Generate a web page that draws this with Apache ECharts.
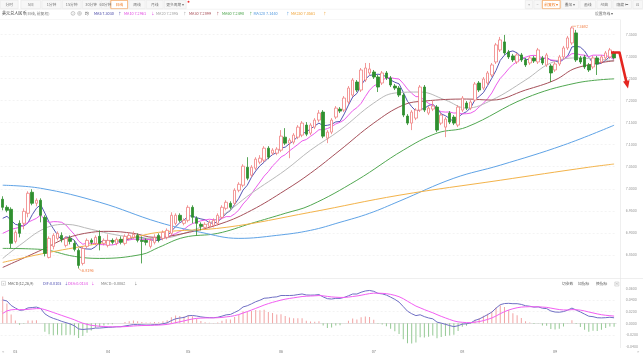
<!DOCTYPE html>
<html><head><meta charset="utf-8">
<script src="https://cdn.jsdelivr.net/npm/echarts@6.0.0/dist/echarts.min.js"></script>
<style>html,body{margin:0;padding:0;background:#fff}#c{width:643px;height:356px}</style>
</head><body><div id="c"></div>
<script>
// ---------- DATA ----------
const monthCounts = [['02',3],['03',22],['04',19],['05',22],['06',22],['07',21],['08',22],['09',15]];
// [open, close, low, high]
const candles = [
[6.9763,6.9581,6.9513,6.9831],[6.9581,6.9513,6.9468,6.9627],[6.9536,6.8764,6.8650,6.9581],
[6.8809,6.9014,6.8764,6.9059],[6.9218,6.8991,6.8900,6.9286],[6.9218,6.9490,6.9082,6.9558],[6.9445,6.9899,6.9354,6.9944],
[6.9922,6.9672,6.9627,6.9990],[6.9672,6.9740,6.9604,6.9785],[6.9740,6.9400,6.9241,6.9785],[6.9354,6.8537,6.8469,6.9400],
[6.8446,6.8877,6.8423,6.8923],[6.8696,6.8945,6.8628,6.8991],[6.8877,6.8991,6.8832,6.9036],[6.8945,6.8855,6.8787,6.9014],
[6.8719,6.8877,6.8673,6.8923],[6.8877,6.8809,6.8741,6.8945],[6.8764,6.8628,6.8582,6.8832],[6.8605,6.8265,6.8196,6.8650],
[6.8310,6.8650,6.8265,6.8696],[6.8696,6.8832,6.8650,6.8877],[6.8832,6.8787,6.8741,6.8877],[6.8764,6.8900,6.8719,6.8945],
[6.8923,6.8764,6.8605,6.9059],[6.8764,6.8832,6.8719,6.8877],
[6.8719,6.8832,6.8673,6.8968],[6.8832,6.8787,6.8741,6.8877],[6.8764,6.8855,6.8719,6.8900],[6.8855,6.8787,6.8741,6.8923],
[6.8764,6.8923,6.8719,6.8968],[6.8877,6.8945,6.8832,6.9014],[6.8900,6.8968,6.8855,6.9036],[6.8945,6.8832,6.8787,6.8991],
[6.8832,6.8809,6.8310,6.8923],[6.8832,6.8787,6.8719,6.8877],[6.8696,6.8832,6.8650,6.8877],[6.8787,6.8900,6.8741,6.8968],
[6.8945,6.8832,6.8787,6.8991],[6.8877,6.9014,6.8832,6.9059],[6.8900,6.9059,6.8855,6.9104],[6.8991,6.9400,6.8945,6.9468],
[6.9218,6.9400,6.9173,6.9445],[6.9400,6.9286,6.9241,6.9445],[6.9218,6.9286,6.9173,6.9331],
[6.9286,6.9581,6.9241,6.9627],[6.9581,6.9354,6.9218,6.9627],[6.9331,6.9218,6.8945,6.9377],[6.9195,6.9150,6.9059,6.9241],
[6.9127,6.9195,6.9082,6.9241],[6.9150,6.9241,6.9104,6.9286],[6.9173,6.9286,6.9127,6.9331],[6.9218,6.9400,6.9173,6.9445],
[6.9354,6.9581,6.9309,6.9627],[6.9558,6.9695,6.9513,6.9740],[6.9672,6.9581,6.9536,6.9718],[6.9672,6.9967,6.9627,7.0012],
[6.9967,7.0103,6.9922,7.0149],[7.0081,7.0512,7.0035,7.0557],[7.0489,7.0239,7.0194,7.0716],[7.0308,7.0489,7.0262,7.0535],
[7.0466,7.0671,7.0421,7.0716],[7.0603,7.0693,7.0557,7.0762],[7.0648,7.0920,7.0603,7.0966],[7.0920,7.0716,7.0671,7.0966],
[7.0807,7.0875,7.0762,7.0920],[7.0807,7.0898,7.0762,7.0943],
[7.0875,7.1193,7.0830,7.1329],[7.1170,7.1034,7.0989,7.1374],[7.1034,7.1102,7.0693,7.1147],[7.1057,7.1216,7.1011,7.1261],
[7.1170,7.1397,7.1125,7.1443],[7.1216,7.1488,7.1170,7.1533],[7.1443,7.1238,7.1193,7.1511],[7.1261,7.1443,7.1216,7.1488],
[7.1397,7.1556,7.1352,7.1601],[7.1556,7.1715,7.1511,7.1783],[7.1738,7.1193,7.1147,7.1783],[7.1147,7.1284,7.1034,7.1329],
[7.1284,7.1556,7.1238,7.1601],[7.1624,7.1828,7.1579,7.1874],[7.1806,7.1760,7.1715,7.1851],[7.1783,7.2055,7.1738,7.2101],
[7.1965,7.2282,7.1919,7.2328],[7.2123,7.2464,7.2078,7.2509],[7.2419,7.2237,7.2192,7.2464],[7.2237,7.2691,7.2192,7.2736],
[7.2464,7.2736,7.2419,7.2850],[7.2623,7.2714,7.2578,7.2850],
[7.2646,7.2532,7.2487,7.2691],[7.2532,7.2305,7.2192,7.2578],[7.2396,7.2623,7.2351,7.2668],[7.2623,7.2509,7.2464,7.2668],
[7.2509,7.2351,7.2305,7.2555],[7.2328,7.2282,7.2237,7.2373],[7.2282,7.2123,7.2078,7.2328],[7.2123,7.1670,7.1624,7.2169],
[7.1647,7.1488,7.1443,7.1692],[7.1488,7.1738,7.1329,7.1783],[7.1601,7.1783,7.1556,7.1828],[7.1783,7.2305,7.1738,7.2351],
[7.2305,7.1783,7.1738,7.2351],[7.1715,7.1828,7.1670,7.1874],[7.1806,7.1874,7.1760,7.2010],[7.1851,7.1329,7.1284,7.1897],
[7.1488,7.1670,7.1443,7.1715],[7.1397,7.1579,7.1170,7.1624],[7.1715,7.1511,7.1466,7.1760],[7.1624,7.1488,7.1443,7.1670],
[7.1443,7.1851,7.1397,7.1897],
[7.1783,7.2055,7.1738,7.2101],[7.1942,7.1828,7.1783,7.1987],[7.1828,7.1965,7.1783,7.2010],[7.2010,7.2373,7.1965,7.2419],
[7.2396,7.2237,7.2192,7.2441],[7.2282,7.2487,7.2237,7.2532],[7.2396,7.2623,7.2351,7.2668],[7.2578,7.2805,7.2532,7.2850],
[7.2873,7.3259,7.2827,7.3304],[7.3145,7.3372,7.3100,7.3440],[7.3327,7.3077,7.3032,7.3486],[7.3100,7.2986,7.2941,7.3145],
[7.3009,7.2918,7.2873,7.3055],[7.2873,7.3032,7.2827,7.3077],[7.3032,7.2918,7.2873,7.3077],[7.2918,7.2805,7.2759,7.2964],
[7.2850,7.2964,7.2805,7.3009],[7.2964,7.2895,7.2850,7.3009],[7.2873,7.3145,7.2827,7.3190],[7.2964,7.2850,7.2805,7.3009],
[7.2805,7.3032,7.2759,7.3077],[7.2782,7.2623,7.2419,7.2827],
[7.2691,7.2827,7.2646,7.2873],[7.2827,7.2986,7.2782,7.3032],[7.2986,7.3190,7.2941,7.3236],[7.3190,7.3417,7.3145,7.3463],
[7.3304,7.3644,7.3259,7.3682],[7.3531,7.2918,7.2873,7.3599],[7.2964,7.2873,7.2827,7.3009],[7.2986,7.2759,7.2714,7.3032],
[7.2805,7.2691,7.2646,7.2850],[7.2759,7.2964,7.2714,7.3009],[7.2964,7.2827,7.2578,7.3009],[7.2873,7.2986,7.2827,7.3032],
[7.2964,7.3077,7.2918,7.3122],[7.2986,7.3145,7.2941,7.3190],[7.3077,7.2964,7.2941,7.3122]
];
const ma5Early  = [6.9331,6.9377,6.9286,6.9195];
const ma10Early = [6.8991,6.9036,6.9082,6.9104,6.9127,6.9173,6.9241,6.9286,6.9331];
// slower averages: [candle index, value]
const ma20Pts = [[0,6.8423],[4,6.8719],[10,6.9104],[15,6.9195],[21,6.9082],[25,6.8991],[31,6.8900],[37,6.8877],[43,6.8991],[51,6.9331],[59,6.9899],[67,7.0421],[73,7.0875],[80,7.1329],[88,7.1942],[93,7.2169],[99,7.2192],[105,7.2010],[110,7.1828],[116,7.2010],[124,7.2464],[130,7.2850],[136,7.2964],[145,7.2895]];
const ma30Pts = [[0,6.8219],[10,6.8650],[15,6.8877],[21,6.9014],[25,6.9036],[31,6.8991],[36,6.8900],[43,6.8991],[52,6.9218],[59,6.9513],[67,6.9967],[73,7.0353],[80,7.0875],[88,7.1488],[95,7.1897],[100,7.1987],[110,7.2033],[116,7.2010],[124,7.2237],[131,7.2464],[136,7.2736],[145,7.2899]];
const ma60Pts = [[0,6.8650],[9,6.8628],[17,6.8469],[23,6.8423],[33,6.8514],[37,6.8673],[43,6.8900],[51,6.8991],[59,6.9218],[67,6.9445],[73,6.9627],[84,7.0194],[95,7.0875],[103,7.1261],[110,7.1397],[124,7.2055],[136,7.2396],[145,7.2490]];
const ma120Pts = [[0,7.0081],[9,7.0012],[23,6.9695],[37,6.9241],[47,6.9014],[56,6.8877],[65,6.8945],[73,6.9059],[80,6.9241],[87,6.9445],[94,6.9717],[107,7.0239],[118,7.0535],[133,7.0989],[145,7.1440]];
const ma250Pts = [[0,6.8333],[11,6.8560],[23,6.8764],[31,6.8900],[37,6.9014],[53,6.9127],[73,6.9468],[94,6.9854],[118,7.0194],[139,7.0489],[145,7.0561]];
// MACD state at the first candle: [ema12, ema26, dea]
const macdSeed = [6.935, 6.895, 0.017];
const priceTicks = {min: 6.80, max: 7.40, step: 0.05};
const macdTicks = {min: -0.04, max: 0.06, step: 0.02};
const legendTexts = ['MA5 7.3030','MA10 7.2961','MA20 7.2895','MA30 7.2899','MA60 7.2490','MA120 7.1440','MA250 7.0561'];
const legendArrows = ['↑','↓','↑','↑','↑','↑','↑'];
const macdTexts = ['DIF:0.0103','DEA:0.0134','MACD:-0.0062'];

// ---------- DERIVED ----------
const cats = [];
monthCounts.forEach(([m,n])=>{for(let k=0;k<n;k++)cats.push(m+'-'+String(k+1).padStart(2,'0'));});
const closes = candles.map(c=>c[1]);
function ma(n, early){
  return closes.map((c,i)=>{
    if(i<n-1) return early[i];
    let s=0; for(let j=i-n+1;j<=i;j++) s+=closes[j]; return +(s/n).toFixed(5);
  });
}
const ma5 = ma(5, ma5Early), ma10 = ma(10, ma10Early);
const dif=[], dea=[], hist=[];
let e12=macdSeed[0], e26=macdSeed[1], dd=macdSeed[2];
closes.forEach((c,i)=>{
  if(i>0){ e12 += (c-e12)*2/13; e26 += (c-e26)*2/27; }
  const df = e12-e26;
  if(i>0) dd += (df-dd)*2/10;
  dif.push(+df.toFixed(5)); dea.push(+dd.toFixed(5)); hist.push(+(2*(df-dd)).toFixed(5));
});

const FONT = '"Noto Sans CJK SC","Noto Sans",sans-serif';
const maColors = ['#5656b4','#ec5cec','#b9b9b9','#a6505a','#52a852','#5fa3e6','#f3b34a'];
const legendColors = ['#3a3aa0','#e040e0','#9a9a9a','#a0404a','#3c9c3c','#4a94dd','#efa030'];

const chart = echarts.init(document.getElementById('c'), null, {renderer:'canvas'});
const GL = 0.6, GW = 615.6;
const isMonthStart = (i)=> i>0 && cats[i].slice(0,2)!==cats[i-1].slice(0,2);

function lineSeries(name, data, color, smooth){
  return {name, type:'line', xAxisIndex:0, yAxisIndex:0, data, symbol:'none', smooth: smooth||false,
    connectNulls:true, lineStyle:{width:1, color}, z:3, silent:true};
}

chart.setOption({
  animation:false,
  backgroundColor:'#fff',
  grid:[
    {left:GL, top:12.2, width:GW, height:264.9},
    {left:GL, top:288.3, width:GW, height:58.4}
  ],
  xAxis:[
    {type:'category', gridIndex:0, data:cats, boundaryGap:true, show:false},
    {type:'category', gridIndex:1, data:cats, boundaryGap:true,
     axisLine:{show:true, lineStyle:{color:'#e2e2e2'}}, axisTick:{show:false},
     axisLabel:{interval:(i)=>isMonthStart(i), formatter:v=>v.slice(0,2), fontSize:3.8, color:'#777', margin:2.5, fontFamily:FONT}}
  ],
  yAxis:[
    {type:'value', gridIndex:0, position:'right', min:priceTicks.min, max:priceTicks.max, interval:priceTicks.step,
     axisLine:{show:false}, axisTick:{show:false},
     axisLabel:{showMinLabel:false, showMaxLabel:false, formatter:v=>v.toFixed(4), fontSize:3.6, color:'#999', margin:9.5, fontFamily:FONT},
     splitLine:{show:true, showMinLine:false, showMaxLine:false, lineStyle:{color:'#ececec', type:[2,2], width:0.6}}},
    {type:'value', gridIndex:1, position:'right', min:macdTicks.min, max:macdTicks.max, interval:macdTicks.step,
     axisLine:{show:false}, axisTick:{show:false},
     axisLabel:{formatter:v=>v.toFixed(4), fontSize:3.6, color:'#999', margin:9.5, fontFamily:FONT},
     splitLine:{show:true, showMinLine:false, showMaxLine:false, lineStyle:{color:'#ececec', type:[2,2], width:0.6}}}
  ],
  series:[
    {type:'candlestick', xAxisIndex:0, yAxisIndex:0, data:candles, barWidth:3, z:5,
     itemStyle:{color:'#ffffff', color0:'#2f8f2f', borderColor:'#f07f7f', borderColor0:'#2f8f2f', borderWidth:0.8}},
    lineSeries('MA5', ma5, maColors[0]),
    lineSeries('MA10', ma10, maColors[1]),
    lineSeries('MA20', ma20Pts, maColors[2], 0.4),
    lineSeries('MA30', ma30Pts, maColors[3], 0.4),
    lineSeries('MA60', ma60Pts, maColors[4], 0.4),
    lineSeries('MA120', ma120Pts, maColors[5], 0.4),
    lineSeries('MA250', ma250Pts, maColors[6], 0.4),
    {type:'bar', xAxisIndex:1, yAxisIndex:1, data:hist, barWidth:0.9, silent:true,
     itemStyle:{color:p=>p.value>=0?'#f2a3a3':'#94c994'}},
    {type:'line', xAxisIndex:1, yAxisIndex:1, data:dif, symbol:'none', lineStyle:{width:1,color:'#6f6fc4'}, silent:true, z:4},
    {type:'line', xAxisIndex:1, yAxisIndex:1, data:dea, symbol:'none', lineStyle:{width:1,color:'#f35ef3'}, silent:true, z:4}
  ]
});

// ---------- decoration (texts, toolbar) ----------
const G = [];
const txt = (x,y,text,fill,size,align)=>G.push({type:'text', x, y, z:50,
  style:{text, fill, fontSize:size||4, fontFamily:FONT, align:align||'left', verticalAlign:'middle'}});
const rect = (x,y,w,h,stroke,fill,lw)=>G.push({type:'rect', z:40, shape:{x,y,width:w,height:h},
  style:{stroke, fill:fill||'none', lineWidth:lw||0.6}});
const hline = (x1,y1,x2,y2,stroke,lw)=>G.push({type:'line', z:40, shape:{x1,y1,x2,y2}, style:{stroke, lineWidth:lw||0.6}});

// top toolbar
const tb = [['分时',0,18.5],['5日',20.5,41],['1分钟',41.5,61.5],['15分钟',62,81.5],['30分钟',82,100.5],['60分钟',101,110],['日线',110.5,128],['周线',128.5,145.5],['月线',146,163.5],['更多周期 ▾',164,186.5]];
tb.forEach(([t,a,b])=>{
  const sel = t==='日线';
  rect(a+0.3,0.3,b-a-0.6,8.4, sel?'#f39a4c':'#e3e3e3', sel?'#fff':'#f7f7f7', sel?0.8:0.5);
  txt((a+b)/2,4.6,t, sel?'#f07a20':'#777',3.8,'center');
});
G.push({type:'circle', z:50, shape:{cx:188.5,cy:1.8,r:1}, style:{fill:'#e33'}});
const tr = [['+',525,533],['−',533.5,541.5],['前复权 ▾',542,560.5],['叠加 ▾',561,579],['画线',579.5,596],['经典',596.5,612],['隐藏 ⊢',612.5,632],['⊡',632.5,643]];
tr.forEach(([t,a,b])=>{
  const sel = t==='前复权 ▾';
  rect(a+0.3,0.3,b-a-0.6,8.4, sel?'#f39a4c':'#e3e3e3', sel?'#fff':'#f7f7f7', sel?0.8:0.5);
  txt((a+b)/2,4.6,t, sel?'#f07a20':'#777',3.8,'center');
});
hline(0,9.2,643,9.2,'#ececec',0.6);

// title / MA legend row
txt(2,13.4,'美元兑人民币','#333',4.1);
txt(26,13.4,'(日线, 前复权)','#777',3.8);
G.push({type:'circle', z:50, shape:{cx:73,cy:13.4,r:1.9}, style:{stroke:'#999', fill:'none', lineWidth:0.5}});
txt(73,13.5,'?','#999',3,'center');
G.push({type:'circle', z:50, shape:{cx:79.5,cy:13.4,r:1.9}, style:{stroke:'#999', fill:'none', lineWidth:0.5}});
G.push({type:'circle', z:50, shape:{cx:79.5,cy:13.4,r:0.7}, style:{stroke:'#999', fill:'none', lineWidth:0.5}});
txt(85,13.4,'均','#333',3.6);
const legX = [94,124,156,189,222,253.5,291];
const arrX = [118,151,183,216,249,286,323];
legendTexts.forEach((t,i)=>{ txt(legX[i],13.4,t,legendColors[i],3.8); txt(arrX[i],13.4,legendArrows[i],legendColors[i],3.8); });
txt(595,13.4,'设置均线 ▾','#666',3.8);
hline(0,19.5,620,19.5,'#efefef',0.5);

// panel borders
hline(620.5,19.5,620.5,348,'#e4e4e4',0.6);
hline(0,278.5,643,278.5,'#e4e4e4',0.6);

// MACD header
rect(1.5,281.3,4,4,'#bbb','#fff',0.5);
txt(3.5,283.4,'+','#999',3.5,'center');
txt(8,283.4,'MACD(12,26,9)','#555',3.8);
txt(43,283.4,macdTexts[0],'#4b4bb0',3.8); txt(64.5,283.4,'↓','#4b4bb0',3.8);
txt(68,283.4,macdTexts[1],'#e040e0',3.8); txt(91,283.4,'↓','#e040e0',3.8);
txt(101,283.4,macdTexts[2],'#777',3.8); txt(134,283.4,'↓','#777',3.8);
txt(562,284,'切参数','#666',3.8); txt(578,284,'加指标','#666',3.8); txt(596,284,'换指标','#666',3.8);
rect(614.8,282,4,4,'#bbb','#fff',0.5); txt(616.8,284,'×','#888',3.5,'center');

// bottom arrows
txt(3,351.3,'<','#999',4,'center');
txt(638,351.3,'>','#999',4,'center');

// max / min annotations from the data
let iMax=0, iMin=0;
candles.forEach((c,i)=>{ if(c[3]>candles[iMax][3]) iMax=i; if(c[2]<candles[iMin][2]) iMin=i; });
const pMax = chart.convertToPixel({xAxisIndex:0,yAxisIndex:0},[iMax,candles[iMax][3]]);
const pMin = chart.convertToPixel({xAxisIndex:0,yAxisIndex:0},[iMin,candles[iMin][2]]);
hline(pMax[0],pMax[1],pMax[0]+4,pMax[1],'#f0884a',0.6);
txt(pMax[0]+4.5,pMax[1],candles[iMax][3].toFixed(4),'#f0783a',3.8);
hline(pMin[0],pMin[1],pMin[0]+3,pMin[1]+2.5,'#f0884a',0.6);
txt(pMin[0]+3.5,pMin[1]+2.5,candles[iMin][2].toFixed(4),'#f0783a',3.8);

// red arrow annotation
G.push({type:'polyline', z:60, shape:{points:[[611,52.5],[619.5,52.5],[626.5,82.5]]},
  style:{stroke:'#e4251f', lineWidth:2.6, fill:null, lineJoin:'round'}});
G.push({type:'polygon', z:60, shape:{points:[[628,88.5],[623,81.5],[629.5,80.2]]}, style:{fill:'#e4251f'}});

chart.setOption({graphic:{elements:G}});
</script>
</body></html>
